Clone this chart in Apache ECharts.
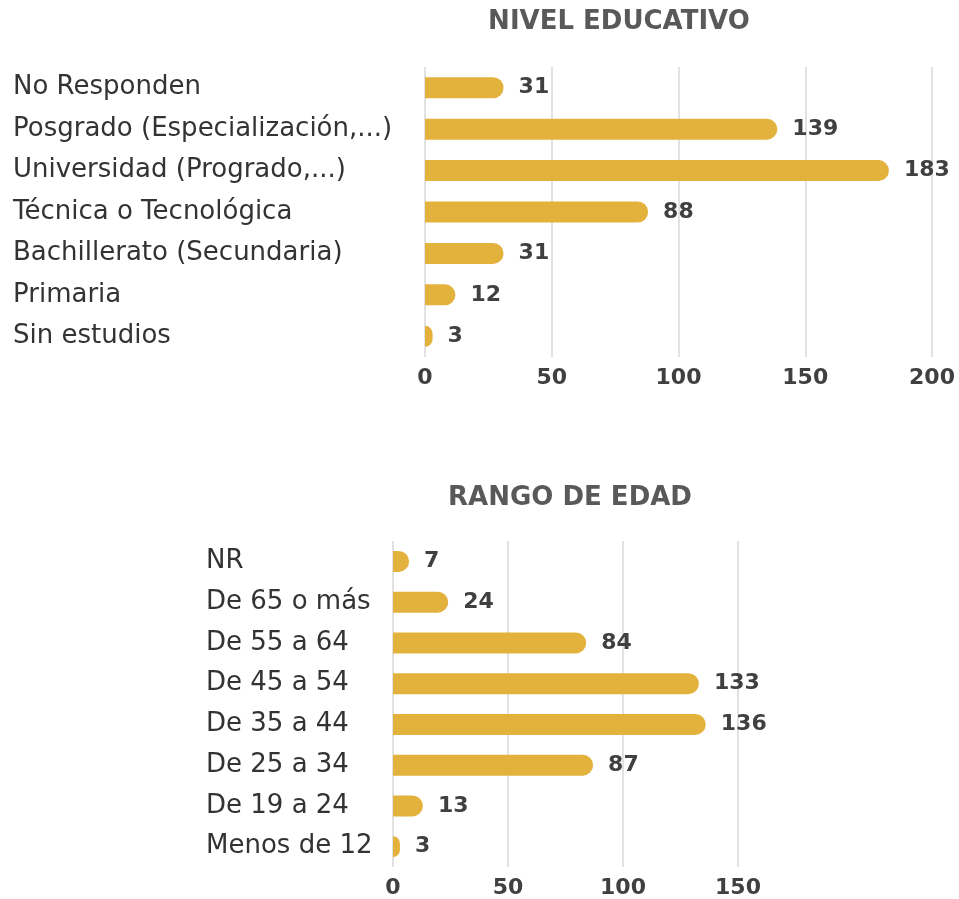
<!DOCTYPE html>
<html>
<head>
<meta charset="utf-8">
<script src="https://cdn.jsdelivr.net/npm/echarts@6/dist/echarts.min.js"></script>
<style>
  html, body { margin: 0; padding: 0; background: #fff; }
  #chart { width: 959px; height: 899px; }
</style>
</head>
<body>
<div id="chart"></div>
<script>
    // nivel educativo
    const eduCategories = ['No Responden', 'Posgrado (Especialización,...)', 'Universidad (Progrado,...)',
        'Técnica o Tecnológica', 'Bachillerato (Secundaria)', 'Primaria', 'Sin estudios'];
    const eduValues = [31, 139, 183, 88, 31, 12, 3];
    const eduTicks = [0, 50, 100, 150, 200];

    // rango de edad
    const ageCategories = ['NR', 'De 65 o más', 'De 55 a 64', 'De 45 a 54', 'De 35 a 44',
        'De 25 a 34', 'De 19 a 24', 'Menos de 12'];
    const ageValues = [7, 24, 84, 133, 136, 87, 13, 3];
    const ageTicks = [0, 50, 100, 150];

    const barColor = '#E3B23C';
    const font = '"DejaVu Sans", "Open Sans", sans-serif';

    function valueAxis(gridIndex, ticks) {
        return {
            type: 'value',
            gridIndex: gridIndex,
            min: ticks[0],
            max: ticks[ticks.length - 1],
            interval: ticks[1] - ticks[0],
            axisLine: { show: false },
            axisTick: { show: false },
            axisLabel: {
                margin: 10,
                color: '#404040',
                fontSize: 22,
                fontWeight: 'bold',
                fontFamily: font
            },
            splitLine: { lineStyle: { color: '#d9d9d9', width: 1.5 } }
        }
    }

    function categoryAxis(gridIndex, data, margin) {
        return {
            type: 'category',
            gridIndex: gridIndex,
            data: data,
            inverse: true,
            axisLine: { show: false },
            axisTick: { show: false },
            axisLabel: {
                align: 'left',
                margin: margin,
                color: '#333333',
                fontSize: 26,
                fontFamily: font
            }
        }
    }

    function barSeries(index, data) {
        return {
            type: 'bar',
            xAxisIndex: index,
            yAxisIndex: index,
            data: data,
            barWidth: 21,
            itemStyle: {
                color: barColor,
                borderRadius: [0, 11, 11, 0]
            },
            label: {
                show: true,
                position: 'right',
                distance: 15,
                color: '#404040',
                fontSize: 22,
                fontWeight: 'bold',
                fontFamily: font
            }
        }
    }

    const chart = echarts.init(document.getElementById('chart'));
    chart.setOption({
        animation: false,
        title: [
            {
                text: 'NIVEL EDUCATIVO',
                left: 614, top: 4, textAlign: 'center',
                textStyle: { color: '#595959', fontSize: 26, fontWeight: 'bold', fontFamily: font }
            },
            {
                text: 'RANGO DE EDAD',
                left: 565, top: 480, textAlign: 'center',
                textStyle: { color: '#595959', fontSize: 26, fontWeight: 'bold', fontFamily: font }
            }
        ],
        grid: [
            { left: 425, width: 507, top: 67, height: 290 },
            { left: 393, width: 345, top: 541, height: 328 }
        ],
        xAxis: [valueAxis(0, eduTicks), valueAxis(1, ageTicks)],
        yAxis: [categoryAxis(0, eduCategories, 412), categoryAxis(1, ageCategories, 187)],
        series: [barSeries(0, eduValues), barSeries(1, ageValues)]
    });
</script>
</body>
</html>
